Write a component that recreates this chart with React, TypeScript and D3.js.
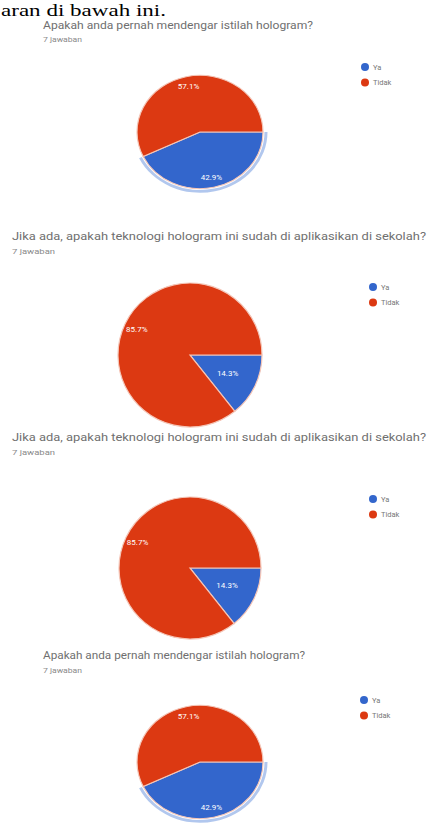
import React from "react";
import * as d3 from "d3";

const categories = ["Ya", "Tidak"];
const valuesQ1 = [42.9, 57.1];
const valuesQ2 = [14.3, 85.7];
const titleQ1 = "Apakah anda pernah mendengar istilah hologram?";
const titleQ2 = "Jika ada, apakah teknologi hologram ini sudah di aplikasikan di sekolah?";
const responseLabel = "7 jawaban";
const headerText = "aran di bawah ini.";

const colors = d3.scaleOrdinal<string, string>().domain(categories).range(["#3366cc", "#dc3912"]);

type Panel = {
  title: string;
  values: number[];
  tx: number; ty: number; tw: number;
  sy: number; sw: number;
  cx: number; cy: number; r: number; sq: number;
  lx: number; ly: number;
  highlight: boolean;
};

const panels: Panel[] = [
  { title: titleQ1, values: valuesQ1, tx: 43, ty: 25, tw: 270, sy: 39, sw: 39, cx: 200, cy: 132, r: 63, sq: 0.9, lx: 365, ly: 67, highlight: true },
  { title: titleQ2, values: valuesQ2, tx: 12, ty: 236, tw: 414, sy: 251, sw: 43, cx: 190, cy: 355, r: 72, sq: 1, lx: 373, ly: 287, highlight: false },
  { title: titleQ2, values: valuesQ2, tx: 12, ty: 437, tw: 414, sy: 452, sw: 43, cx: 190, cy: 568, r: 71, sq: 1, lx: 373, ly: 499, highlight: false },
  { title: titleQ1, values: valuesQ1, tx: 43, ty: 655, tw: 262, sy: 670, sw: 39, cx: 200, cy: 762, r: 63, sq: 0.9, lx: 364, ly: 700, highlight: true },
];

function PiePanel({ p }: { p: Panel }) {
  const data = categories.map((c, i) => ({ cat: c, value: p.values[i] }));
  const pie = d3.pie<{ cat: string; value: number }>()
    .value((d) => d.value)
    .sort(null)
    .startAngle(Math.PI / 2)
    .endAngle(Math.PI / 2 + 2 * Math.PI);
  const arcs = pie(data);
  const arc = d3.arc<d3.PieArcDatum<{ cat: string; value: number }>>().innerRadius(0).outerRadius(p.r);
  const halo = d3.arc<d3.PieArcDatum<{ cat: string; value: number }>>().innerRadius(p.r + 1.5).outerRadius(p.r + 4.5);
  const total = d3.sum(p.values);
  return (
    <g>
      <text x={p.tx} y={p.ty} dominantBaseline="central" fontFamily="Roboto, Arial, sans-serif" fontSize={10.5} fill="#6f6f6f" textLength={p.tw} lengthAdjust="spacingAndGlyphs">{p.title}</text>
      <text x={p.tx} y={p.sy} dominantBaseline="central" fontFamily="Roboto, Arial, sans-serif" fontSize={8} fill="#8a8a8a" textLength={p.sw} lengthAdjust="spacingAndGlyphs">{responseLabel}</text>
      <g transform={`translate(${p.cx},${p.cy}) scale(1,${p.sq})`}>
        {arcs.map((a) => (
          <path key={a.data.cat} d={arc(a) || ""} fill={colors(a.data.cat)} stroke="#f4c6b8" strokeWidth={1.2} />
        ))}
        {p.highlight && arcs.filter((a) => a.data.cat === "Ya").map((a) => (
          <path key="halo" d={halo(a) || ""} fill="#a9c1ec" opacity={0.9} />
        ))}
      </g>
      {arcs.map((a) => {
        const frac = a.data.value / total;
        const k = frac < 0.2 ? 0.58 : 0.82;
        const la = d3.arc<d3.PieArcDatum<{ cat: string; value: number }>>().innerRadius(p.r * k).outerRadius(p.r * k);
        const [x, y] = la.centroid(a);
        return (
          <text key={"l" + a.data.cat} x={p.cx + x} y={p.cy + y * p.sq} textAnchor="middle" dominantBaseline="central" fontFamily="Roboto, Arial, sans-serif" fontSize={8} fill="#ffffff">
            {a.data.value.toFixed(1) + "%"}
          </text>
        );
      })}
      {categories.map((c, i) => (
        <g key={"lg" + c}>
          <circle cx={p.lx} cy={p.ly + i * 15.5} r={4} fill={colors(c)} />
          <text x={p.lx + 8} y={p.ly + i * 15.5} dominantBaseline="central" fontFamily="Roboto, Arial, sans-serif" fontSize={7.5} fill="#777">{c}</text>
        </g>
      ))}
    </g>
  );
}

export default function App() {
  return (
    <svg width={428} height={828} style={{ position: "absolute", left: 0, top: 0, background: "#fff" }}>
      <rect width={428} height={828} fill="#ffffff" />
      <text x={1} y={15.5} fontFamily="'Liberation Serif', 'Times New Roman', serif" fontSize={16.5} fill="#000" textLength={165} lengthAdjust="spacingAndGlyphs">{headerText}</text>
      {panels.map((p, i) => (
        <PiePanel key={i} p={p} />
      ))}
    </svg>
  );
}
